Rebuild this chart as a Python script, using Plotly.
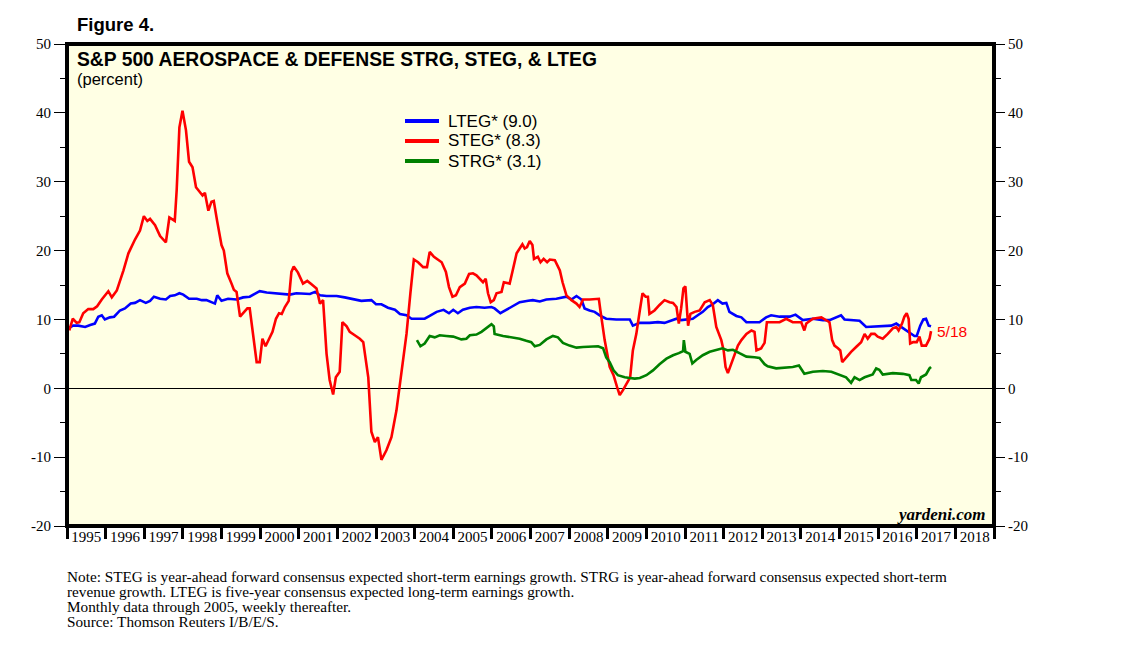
import plotly.graph_objects as go

# ---------------- data (decimal years, percent) ----------------
steg_x = [1995.06, 1995.15, 1995.25, 1995.32, 1995.42, 1995.55, 1995.68, 1995.78, 1995.90, 1996.07,
          1996.16, 1996.29, 1996.46, 1996.59, 1996.76, 1996.89, 1996.99, 1997.08, 1997.15, 1997.28,
          1997.41, 1997.56, 1997.65, 1997.79, 1997.84, 1997.91, 1997.99, 1998.08, 1998.16, 1998.25,
          1998.34, 1998.44, 1998.51, 1998.57, 1998.66, 1998.74, 1998.80, 1998.89, 1999.00, 1999.06,
          1999.15, 1999.26, 1999.32, 1999.39, 1999.48, 1999.56, 1999.67, 1999.73, 1999.82, 1999.91,
          1999.99, 2000.06, 2000.14, 2000.23, 2000.32, 2000.41, 2000.49, 2000.56, 2000.64, 2000.74,
          2000.81, 2000.87, 2000.98, 2001.11, 2001.22, 2001.33, 2001.46, 2001.55, 2001.63, 2001.72,
          2001.80, 2001.89, 2001.96, 2002.06, 2002.13, 2002.24, 2002.32, 2002.45, 2002.58, 2002.67,
          2002.80, 2002.88, 2002.97, 2003.05, 2003.14, 2003.27, 2003.40, 2003.53, 2003.66, 2003.79,
          2003.89, 2003.98, 2004.09, 2004.22, 2004.32, 2004.39, 2004.50, 2004.61, 2004.70, 2004.81,
          2004.89, 2004.98, 2005.07, 2005.17, 2005.30, 2005.41, 2005.51, 2005.60, 2005.70, 2005.77,
          2005.84, 2005.90, 2005.97, 2006.05, 2006.12, 2006.25, 2006.31, 2006.39, 2006.46, 2006.53,
          2006.64, 2006.72, 2006.79, 2006.85, 2006.91, 2006.98, 2007.05, 2007.09, 2007.19, 2007.26,
          2007.34, 2007.43, 2007.50, 2007.63, 2007.76, 2007.83, 2007.93, 2008.06, 2008.19, 2008.27,
          2008.36, 2008.53, 2008.77, 2008.81, 2008.92, 2009.05, 2009.15, 2009.24, 2009.31, 2009.39,
          2009.48, 2009.58, 2009.65, 2009.74, 2009.83, 2009.90, 2009.98, 2010.04, 2010.08, 2010.21,
          2010.34, 2010.47, 2010.60, 2010.69, 2010.78, 2010.84, 2010.90, 2010.96, 2011.01, 2011.03,
          2011.08, 2011.14, 2011.25, 2011.38, 2011.51, 2011.64, 2011.72, 2011.81, 2011.94, 2012.00,
          2012.05, 2012.11, 2012.20, 2012.28, 2012.37, 2012.46, 2012.59, 2012.72, 2012.80, 2012.85,
          2012.97, 2013.06, 2013.12, 2013.27, 2013.45, 2013.62, 2013.79, 2014.01, 2014.09, 2014.14,
          2014.31, 2014.53, 2014.66, 2014.74, 2014.81, 2014.87, 2014.96, 2015.02, 2015.07, 2015.17,
          2015.30, 2015.43, 2015.56, 2015.65, 2015.73, 2015.82, 2015.91, 2015.99, 2016.12, 2016.25,
          2016.38, 2016.47, 2016.53, 2016.62, 2016.68, 2016.74, 2016.79, 2016.83, 2016.91, 2017.00,
          2017.07, 2017.13, 2017.24, 2017.33, 2017.37]
steg_y = [8.4, 10.1, 9.5, 9.6, 10.9, 11.5, 11.5, 11.9, 12.9, 14.1,
          13.2, 14.2, 17.1, 19.6, 21.6, 22.9, 25.0, 24.3, 24.6, 23.7,
          22.1, 21.2, 24.8, 24.3, 28.8, 37.9, 40.3, 37.5, 32.9, 32.1,
          29.2, 28.5, 28.0, 28.4, 25.8, 27.1, 27.2, 24.2, 20.8, 20.0,
          16.7, 15.2, 14.3, 14.0, 10.4, 10.9, 11.6, 11.6, 7.5, 3.8,
          3.8, 7.2, 6.1, 7.2, 8.2, 10.1, 10.9, 10.8, 11.8, 12.7,
          16.9, 17.7, 16.8, 15.2, 15.6, 15.1, 14.5, 12.3, 12.8, 5.0,
          1.2, -0.9, 1.6, 2.4, 9.6, 9.0, 8.2, 7.7, 7.2, 6.7,
          1.6, -6.3, -7.8, -7.1, -10.4, -9.0, -7.1, -3.2, 2.1, 7.9,
          13.8, 18.7, 18.3, 17.6, 17.6, 19.8, 19.1, 18.7, 18.3, 16.9,
          14.7, 13.3, 13.5, 14.7, 15.2, 16.6, 16.7, 16.4, 15.8, 15.4,
          15.9, 13.8, 12.5, 12.8, 13.8, 14.0, 15.4, 15.3, 15.2, 16.9,
          19.6, 20.3, 20.9, 20.3, 20.5, 21.4, 20.8, 18.8, 19.1, 18.3,
          18.8, 18.3, 18.7, 18.6, 17.1, 15.4, 13.5, 12.8, 12.3, 11.8,
          12.9, 12.9, 13.0, 11.3, 7.0, 3.1, 1.9, 0.2, -1.0, -0.3,
          0.7, 1.6, 5.5, 7.9, 11.3, 13.8, 13.3, 13.3, 10.8, 11.3,
          12.1, 12.8, 12.5, 12.4, 11.8, 9.4, 11.6, 14.5, 14.8, 13.3,
          9.1, 10.8, 11.1, 11.3, 12.5, 12.8, 12.1, 8.9, 7.0, 5.5,
          3.1, 2.2, 3.6, 4.8, 6.2, 7.0, 7.9, 8.4, 8.2, 5.5,
          5.8, 6.6, 9.6, 9.6, 9.6, 10.1, 9.6, 9.6, 8.4, 9.4,
          10.1, 10.3, 9.9, 9.6, 7.0, 6.2, 5.8, 5.5, 3.8, 4.5,
          5.3, 6.0, 6.7, 7.9, 7.2, 7.9, 7.9, 7.5, 7.2, 7.9,
          8.7, 8.9, 8.4, 9.4, 10.4, 10.9, 10.1, 6.5, 6.7, 6.7,
          7.5, 6.2, 6.2, 7.2, 8.3]

lteg_x = [1995.06, 1995.16, 1995.29, 1995.47, 1995.60, 1995.72, 1995.81, 1995.90, 1995.98, 1996.11,
          1996.22, 1996.37, 1996.50, 1996.65, 1996.76, 1996.89, 1997.04, 1997.15, 1997.25, 1997.41,
          1997.56, 1997.67, 1997.79, 1997.91, 1998.01, 1998.16, 1998.36, 1998.49, 1998.61, 1998.74,
          1998.83, 1998.89, 1999.00, 1999.17, 1999.39, 1999.56, 1999.73, 1999.86, 1999.99, 2000.17,
          2000.43, 2000.60, 2000.77, 2000.94, 2001.11, 2001.29, 2001.42, 2001.55, 2001.72, 2001.98,
          2002.19, 2002.41, 2002.62, 2002.88, 2003.00, 2003.14, 2003.31, 2003.49, 2003.62, 2003.79,
          2003.92, 2004.09, 2004.26, 2004.39, 2004.57, 2004.75, 2004.89, 2005.00, 2005.12, 2005.25,
          2005.43, 2005.60, 2005.81, 2005.99, 2006.07, 2006.22, 2006.38, 2006.51, 2006.72, 2006.94,
          2007.06, 2007.24, 2007.41, 2007.67, 2007.93, 2008.06, 2008.19, 2008.32, 2008.40, 2008.53,
          2008.66, 2008.79, 2008.96, 2009.22, 2009.39, 2009.57, 2009.65, 2009.83, 2010.08, 2010.30,
          2010.47, 2010.65, 2010.78, 2010.90, 2011.03, 2011.20, 2011.33, 2011.46, 2011.59, 2011.72,
          2011.85, 2011.97, 2012.07, 2012.15, 2012.33, 2012.46, 2012.59, 2012.76, 2012.93, 2013.10,
          2013.23, 2013.45, 2013.71, 2013.86, 2014.05, 2014.31, 2014.57, 2014.74, 2015.04, 2015.13,
          2015.30, 2015.52, 2015.69, 2015.91, 2016.12, 2016.34, 2016.47, 2016.60, 2016.73, 2016.86,
          2016.94, 2017.00, 2017.09, 2017.17, 2017.24, 2017.31, 2017.37]
lteg_y = [8.8, 9.1, 9.1, 8.9, 9.2, 9.4, 10.4, 10.6, 10.0, 10.3,
          10.4, 11.3, 11.6, 12.3, 12.4, 12.8, 12.4, 12.7, 13.3, 13.0,
          12.9, 13.4, 13.5, 13.8, 13.6, 13.0, 13.0, 12.8, 12.8, 12.5,
          12.3, 13.5, 12.7, 13.0, 12.9, 13.2, 13.3, 13.7, 14.1, 13.9,
          13.8, 13.7, 13.6, 13.8, 13.7, 13.7, 14.0, 13.5, 13.4, 13.4,
          13.2, 13.0, 12.7, 12.8, 12.2, 12.2, 11.7, 11.4, 10.8, 10.6,
          10.1, 10.1, 10.1, 10.5, 11.1, 11.4, 10.9, 11.4, 10.9, 11.4,
          11.7, 11.8, 11.7, 11.8, 11.6, 10.9, 11.4, 11.9, 12.5, 12.7,
          12.8, 12.6, 12.9, 13.0, 13.3, 12.9, 13.4, 12.9, 11.6, 11.3,
          11.1, 10.6, 10.1, 10.0, 10.0, 10.0, 9.1, 9.5, 9.5, 9.6,
          9.5, 9.8, 10.1, 9.9, 10.0, 10.1, 10.6, 11.1, 11.8, 12.2,
          12.8, 12.3, 12.4, 11.1, 10.5, 10.3, 9.6, 9.6, 9.6, 10.3,
          10.6, 10.4, 10.4, 10.7, 9.9, 10.1, 9.9, 9.9, 10.6, 10.0,
          9.9, 9.8, 8.9, 9.0, 9.1, 9.1, 9.4, 8.9, 8.4, 7.8,
          7.6, 7.6, 9.1, 10.0, 10.1, 9.1, 9.0]

strg_x = [2004.06, 2004.15, 2004.26, 2004.39, 2004.52, 2004.65, 2004.82, 2005.00, 2005.21, 2005.34,
          2005.43, 2005.60, 2005.73, 2005.86, 2005.99, 2006.05, 2006.07, 2006.29, 2006.51, 2006.72,
          2006.89, 2007.02, 2007.11, 2007.24, 2007.41, 2007.58, 2007.71, 2007.84, 2008.01, 2008.19,
          2008.36, 2008.53, 2008.75, 2008.88, 2008.96, 2009.05, 2009.15, 2009.26, 2009.44, 2009.57,
          2009.70, 2009.83, 2010.00, 2010.17, 2010.34, 2010.52, 2010.69, 2010.84, 2010.95, 2010.97,
          2011.01, 2011.12, 2011.19, 2011.29, 2011.46, 2011.64, 2011.81, 2011.97, 2012.11, 2012.24,
          2012.41, 2012.59, 2012.80, 2012.93, 2013.06, 2013.14, 2013.36, 2013.58, 2013.79, 2013.95,
          2014.09, 2014.31, 2014.57, 2014.79, 2015.00, 2015.17, 2015.30, 2015.39, 2015.52, 2015.65,
          2015.86, 2015.95, 2016.03, 2016.12, 2016.38, 2016.64, 2016.81, 2016.86, 2016.98, 2017.05,
          2017.11, 2017.24, 2017.33, 2017.37]
strg_y = [7.0, 6.1, 6.5, 7.6, 7.4, 7.7, 7.6, 7.5, 7.1, 7.2,
          7.7, 7.8, 8.2, 8.7, 9.3, 9.0, 7.9, 7.6, 7.4, 7.2,
          6.9, 6.7, 6.1, 6.3, 7.1, 7.6, 7.4, 6.6, 6.2, 5.9,
          6.0, 6.0, 6.1, 5.8, 4.5, 3.8, 2.6, 1.9, 1.6, 1.5,
          1.4, 1.5, 1.9, 2.6, 3.5, 4.3, 4.8, 5.1, 5.4, 7.0,
          5.3, 5.0, 3.6, 4.1, 4.8, 5.3, 5.6, 5.8, 5.5, 5.6,
          5.1, 4.6, 4.5, 4.4, 3.5, 3.2, 2.9, 3.0, 3.1, 3.3,
          2.1, 2.4, 2.5, 2.4, 1.9, 1.6, 0.8, 1.6, 1.2, 1.6,
          2.0, 2.9, 2.7, 2.0, 2.2, 2.1, 1.9, 1.2, 1.2, 0.7,
          1.6, 2.0, 2.9, 3.1]

years = list(range(1995, 2019))
year_labels = [str(y) for y in years]
y_ticks = [-20, -10, 0, 10, 20, 30, 40, 50]
y_tick_labels = ["-20", "-10", "0", "10", "20", "30", "40", "50"]
legend_names = ["LTEG* (9.0)", "STEG* (8.3)", "STRG* (3.1)"]
colors = ["#0000FF", "#FF0000", "#008000"]
last_date_label = "5/18"
note_lines = [
    "Note: STEG is year-ahead forward consensus expected short-term earnings growth. "
    "STRG is year-ahead forward consensus expected short-term",
    "revenue growth. LTEG is five-year consensus expected long-term earnings growth.",
    "Monthly data through 2005, weekly thereafter.",
    "Source: Thomson Reuters I/B/E/S.",
]

# ---------------- figure ----------------
W, H = 1138, 650
OFF = 8  # page body margin of the browser
# desired plot area in page pixels
PX0, PX1, PY0, PY1 = 67, 994, 44, 526
L, T = PX0 - OFF, PY0 - OFF
R = W + OFF - PX1
B = H + OFF - PY1
serif = "Liberation Serif"
sans = "Liberation Sans"

fig = go.Figure()
for xs, ys, name, c in [(lteg_x, lteg_y, legend_names[0], colors[0]),
                        (steg_x, steg_y, legend_names[1], colors[1]),
                        (strg_x, strg_y, legend_names[2], colors[2])]:
    fig.add_trace(go.Scatter(x=xs, y=ys, mode="lines", name=name,
                             line=dict(color=c, width=2.6), showlegend=False))
# invisible helper trace so the overlay axes (boundary ticks / right axis) are drawn
fig.add_trace(go.Scatter(x=[years[0]], y=[0], xaxis="x2", yaxis="y2", mode="markers",
                         marker=dict(opacity=0), showlegend=False, hoverinfo="skip"))

xr = [1995, 2019]
yr = [-20, 50]
yfont = dict(family=serif, size=15, color="black")

fig.update_layout(
    width=W, height=H,
    margin=dict(l=L, r=R, t=T, b=B),
    paper_bgcolor="white",
    plot_bgcolor="#FFFFE4",
    showlegend=False,
    xaxis=dict(range=xr, showgrid=False, zeroline=False, showline=False,
               tickmode="array", tickvals=[y + 0.5 for y in years], ticktext=year_labels,
               ticks="", tickfont=dict(family=serif, size=15, color="black")),
    xaxis2=dict(range=xr, overlaying="x", anchor="y", side="bottom", showgrid=False,
                zeroline=False, showline=False, tickmode="array",
                tickvals=years + [2019], ticks="outside", ticklen=12, tickwidth=2.5,
                tickcolor="black", showticklabels=False),
    yaxis=dict(range=yr, showgrid=False, zeroline=True, zerolinecolor="black", zerolinewidth=1,
               showline=False, tickmode="array", tickvals=y_ticks, ticktext=y_tick_labels,
               ticks="outside", ticklen=12, tickwidth=1, tickcolor="black",
               minor=dict(tickmode="linear", tick0=-20, dtick=5, ticks="outside", ticklen=6,
                          tickwidth=1, tickcolor="black"),
               tickfont=yfont),
    yaxis2=dict(range=yr, overlaying="y", side="right", anchor="x", showgrid=False,
                zeroline=False, showline=False, tickmode="array", tickvals=y_ticks,
                ticktext=y_tick_labels, ticks="outside", ticklen=10, tickwidth=1,
                tickcolor="black",
                minor=dict(tickmode="linear", tick0=-20, dtick=5, ticks="outside", ticklen=6,
                           tickwidth=1, tickcolor="black"),
                tickfont=yfont),
)

# frame
fig.add_shape(type="rect", xref="paper", yref="paper", x0=0, x1=1, y0=0, y1=1,
              line=dict(color="black", width=4), layer="above")

pw = PX1 - PX0
ph = PY1 - PY0


def px(x):
    return (x - PX0) / pw


def py(y):
    return (PY1 - y) / ph


# manual legend
leg_rows = [121, 141, 161]
for name, c, yy in zip(legend_names, colors, leg_rows):
    fig.add_shape(type="line", xref="paper", yref="paper", x0=px(405), x1=px(439),
                  y0=py(yy), y1=py(yy), line=dict(color=c, width=4))
    fig.add_annotation(xref="paper", yref="paper", x=px(446), y=py(yy), text=name,
                       showarrow=False, xanchor="left", yanchor="middle",
                       font=dict(family=sans, size=17, color="black"))

annos = [
    dict(text="<b>Figure 4.</b>", x=px(75), y=py(25), xanchor="left", yanchor="middle",
         font=dict(family=sans, size=18.5, color="black")),
    dict(text="<b>S&P 500 AEROSPACE & DEFENSE STRG, STEG, & LTEG</b>", x=px(75), y=py(59),
         xanchor="left", yanchor="middle", font=dict(family=sans, size=19.3, color="black")),
    dict(text="(percent)", x=px(75), y=py(79), xanchor="left", yanchor="middle",
         font=dict(family=sans, size=16.5, color="black")),
    dict(text="<b><i>yardeni.com</i></b>", x=px(987), y=py(514), xanchor="right",
         yanchor="middle", font=dict(family=serif, size=17, color="black")),
]
for i, line in enumerate(note_lines):
    annos.append(dict(text=line, x=px(65), y=py(576 + 15 * i), xanchor="left",
                      yanchor="middle", font=dict(family=serif, size=15.25, color="black")))
for a in annos:
    fig.add_annotation(xref="paper", yref="paper", showarrow=False, **a)

fig.add_annotation(x=steg_x[-1], y=steg_y[-1], xref="x", yref="y", text=last_date_label,
                   showarrow=False, xanchor="left", xshift=4, yanchor="middle",
                   font=dict(family=sans, size=15.5, color="#FF0000"))

fig.write_html("out.html")
